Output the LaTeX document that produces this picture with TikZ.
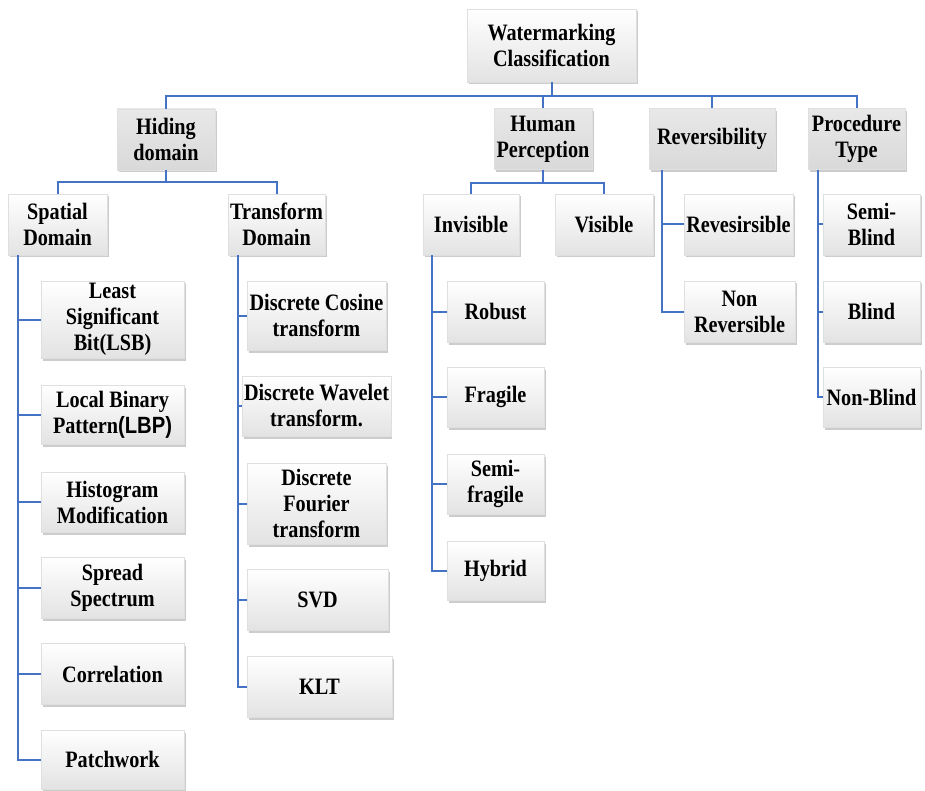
\documentclass[tikz,border=0pt]{standalone}
\usepackage{fontspec}
\setmainfont{Liberation Serif}[FakeStretch=0.86]
\setsansfont{Liberation Sans}[FakeStretch=0.86]
\usetikzlibrary{shadows}
\definecolor{linkblue}{HTML}{4472C4}
\definecolor{headgray}{HTML}{D9D9D9}

\begin{document}
\begin{tikzpicture}[x=1pt,y=-1pt,
    box/.style={rectangle,draw=gray!25,top color=white,bottom color=gray!22,
      drop shadow={shadow xshift=1.5pt,shadow yshift=-2.5pt,fill=gray!80},
      font=\fontsize{23.5}{26}\selectfont\bfseries,align=center,inner sep=2pt,
      minimum width=97pt,minimum height=61pt},
    head/.style={box,top color=headgray!60,bottom color=headgray},
    link/.style={linkblue,line width=2pt}]
        \useasboundingbox (0,0) rectangle (925,791);

        % Root
        \node[box,minimum width=169pt,minimum height=73pt] (root) at (551.5,45.5) {Watermarking\\Classification};

        % Main classes
        \node[head,minimum width=98pt] (hid) at (166,139.5) {Hiding\\domain};
        \node[head,minimum width=98pt] (hum) at (543,139) {Human\\Perception};
        \node[head,minimum width=126pt] (rev) at (712,139) {Reversibility};
        \node[head] (proc) at (856.5,139) {Procedure\\Type};

        % Hiding domain
        \node[box,minimum width=99pt] (spa) at (57.5,224.5) {Spatial\\Domain};
        \node[box] (tra) at (276.5,224.5) {Transform\\Domain};

        % Spatial domain methods
        \node[box,minimum width=143pt,minimum height=77pt] (lsb) at (112.5,319.5) {Least\\Significant\\Bit(LSB)};
        \node[box,minimum width=143pt,minimum height=59pt] (lbp) at (112.5,414.5) {Local Binary\\Pattern{\sffamily(LBP)}};
        \node[box,minimum width=143pt,minimum height=60pt] (hist) at (112.5,502) {Histogram\\Modification};
        \node[box,minimum width=143pt] (spread) at (112.5,587.5) {Spread\\Spectrum};
        \node[box,minimum width=143pt] (corr) at (112.5,674) {Correlation};
        \node[box,minimum width=143pt,minimum height=59pt] (patch) at (112.5,759.5) {Patchwork};

        % Transform domain methods
        \node[box,minimum width=139pt,minimum height=69pt] (dct) at (316.5,315.5) {Discrete Cosine\\transform};
        \node[box,minimum width=139pt,minimum height=60pt] (dwt) at (316.5,406) {Discrete Wavelet\\transform.};
        \node[box,minimum width=139pt,minimum height=81pt] (dft) at (316.5,503.5) {Discrete\\Fourier\\transform};
        \node[box,minimum width=141pt] (svd) at (317.5,599.5) {SVD};
        \node[box,minimum width=145pt] (klt) at (319.5,686.5) {KLT};

        % Human perception
        \node[box,minimum width=96pt] (inv) at (471,224.5) {Invisible};
        \node[box,minimum width=98pt] (vis) at (604,224.5) {Visible};
        \node[box] (rob) at (495.5,311.5) {Robust};
        \node[box,minimum height=60pt] (frag) at (495.5,397) {Fragile};
        \node[box,minimum height=60pt] (semf) at (495.5,484) {Semi-\\fragile};
        \node[box,minimum height=59pt] (hyb) at (495.5,570.5) {Hybrid};

        % Reversibility
        \node[box,minimum width=109pt] (revs) at (738.5,224.5) {Revesirsible};
        \node[box,minimum width=111pt] (nrev) at (739.5,311.5) {Non\\Reversible};

        % Procedure type
        \node[box] (sblind) at (871.5,224.5) {Semi-\\Blind};
        \node[box] (blind) at (871.5,311.5) {Blind};
        \node[box,minimum height=60pt] (nblind) at (871.5,397) {Non-Blind};

        % Connectors
        \foreach \n in {hid,hum,rev,proc}
          \draw[link] (root.south) -- ++(0,14) -| (\n.north);
        \foreach \n in {spa,tra}
          \draw[link] (hid.south) -- ++(0,12) -| (\n.north);
        \foreach \n in {inv,vis}
          \draw[link] (hum.south) -- ++(0,13) -| (\n.north);
        \foreach \n in {lsb,lbp,hist,spread,corr,patch}
          \draw[link] (spa.south west) ++(10,0) |- (\n.west);
        \foreach \n in {dct,dwt,dft,svd,klt}
          \draw[link] (tra.south west) ++(10,0) |- (\n.west);
        \foreach \n in {rob,frag,semf,hyb}
          \draw[link] (inv.south west) ++(9,0) |- (\n.west);
        \foreach \n in {revs,nrev}
          \draw[link] (rev.south west) ++(13,0) |- (\n.west);
        \foreach \n in {sblind,blind,nblind}
          \draw[link] (proc.south west) ++(10,0) |- (\n.west);
      \end{tikzpicture}
\end{document}
